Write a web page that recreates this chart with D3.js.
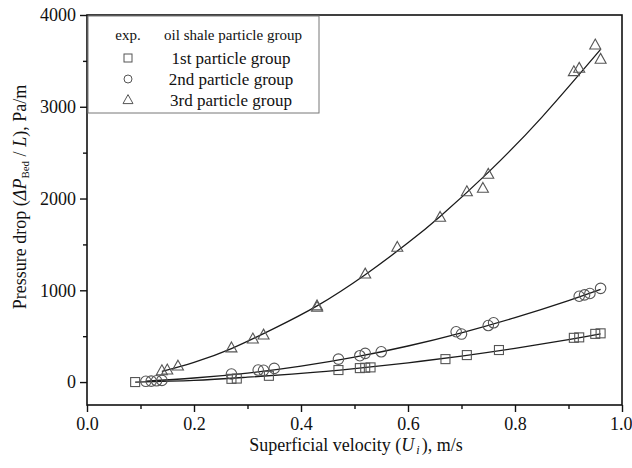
<!DOCTYPE html>
<html><head><meta charset="utf-8">
<script src="https://cdn.jsdelivr.net/npm/d3@7"></script>
<style>
body{margin:0;background:#fff;}
svg, svg text{font-family:"Liberation Serif","DejaVu Serif","Times New Roman",Tinos,serif !important;}
</style></head>
<body><svg id="c" width="632" height="468"></svg>
<script>
// ---- data ----
const g1V = [0.09, 0.27, 0.28, 0.34, 0.47, 0.51, 0.52, 0.53, 0.67, 0.71, 0.77, 0.91, 0.92, 0.95, 0.96];
const g1P = [0, 35, 38, 68, 131, 152, 156, 160, 250, 294, 349, 482, 487, 525, 531];
const g2V = [0.11, 0.12, 0.13, 0.14, 0.27, 0.32, 0.33, 0.35, 0.47, 0.51, 0.52, 0.55, 0.69, 0.70, 0.75, 0.76, 0.92, 0.93, 0.94, 0.96];
const g2P = [8, 10, 14, 18, 88, 131, 128, 149, 250, 287, 313, 330, 548, 523, 616, 646, 935, 950, 965, 1021];
const g3V = [0.14, 0.15, 0.17, 0.27, 0.31, 0.33, 0.43, 0.43, 0.52, 0.58, 0.66, 0.71, 0.74, 0.75, 0.91, 0.92, 0.95, 0.96];
const g3P = [123, 131, 174, 372, 469, 512, 815, 830, 1177, 1468, 1795, 2074, 2111, 2264, 3382, 3419, 3673, 3517];
// fitted curves
const fit1V = [0.09, 0.2, 0.3, 0.4, 0.5, 0.6, 0.7, 0.8, 0.9, 0.96];
const fit1P = [0, 18, 53, 94, 147, 210, 283, 367, 462, 525];
const fit2V = [0.11, 0.2, 0.3, 0.4, 0.5, 0.6, 0.7, 0.8, 0.9, 0.96];
const fit2P = [10, 44, 98, 174, 272, 393, 537, 702, 888, 1010];
const fit3V = [0.14, 0.2, 0.27, 0.35, 0.43, 0.52, 0.6, 0.66, 0.75, 0.85, 0.96];
const fit3P = [115, 215, 365, 585, 830, 1170, 1517, 1805, 2285, 2885, 3625];
const xMajor = [0, 0.2, 0.4, 0.6, 0.8, 1.0];
const xMinor = [0.1, 0.3, 0.5, 0.7, 0.9];
const yMajor = [0, 1000, 2000, 3000, 4000];
const yMinor = [500, 1500, 2500, 3500];
const legendTitle = ["exp.", "oil shale particle group"];
const legendLabels = ["1st particle group", "2nd particle group", "3rd particle group"];

// ---- layout ----
const FONT = '"Liberation Serif","DejaVu Serif","Times New Roman",Tinos,serif';
const svg = d3.select("#c");
const L = 87, R = 622, T = 15, B = 405;
const x = d3.scaleLinear().domain([0, 1]).range([L, R]);
const y = d3.scaleLinear().domain([-250, 4000]).range([B, T]);

// axes
const xAx = d3.axisBottom(x).tickValues(xMajor).tickFormat(d3.format(".1f")).tickSize(7).tickSizeOuter(0).tickPadding(5);
const xAxMin = d3.axisBottom(x).tickValues(xMinor).tickFormat("").tickSize(4).tickSizeOuter(0);
const yAx = d3.axisLeft(y).tickValues(yMajor).tickFormat(d3.format("d")).tickSize(7).tickSizeOuter(0).tickPadding(4);
const yAxMin = d3.axisLeft(y).tickValues(yMinor).tickFormat("").tickSize(4).tickSizeOuter(0);

function style(g){
  g.attr("font-family", FONT);
  g.select(".domain").remove();
  g.selectAll("line").attr("stroke","#111").attr("stroke-width",1.4);
  g.selectAll("text").attr("fill","#111").attr("font-size",18);
}
const gx = svg.append("g").attr("transform",`translate(0,${B})`).call(xAx).call(style);
// keep the last label inside the window
gx.selectAll(".tick text").filter(d => d === 1).attr("text-anchor","end").attr("dx",10);
svg.append("g").attr("transform",`translate(0,${B})`).call(xAxMin).call(style);
svg.append("g").attr("transform",`translate(${L},0)`).call(yAx).call(style);
svg.append("g").attr("transform",`translate(${L},0)`).call(yAxMin).call(style);

// frame
svg.append("rect").attr("x",L).attr("y",T).attr("width",R-L).attr("height",B-T)
  .attr("fill","none").attr("stroke","#111").attr("stroke-width",1.6);

// legend box
const lg = svg.append("g").attr("font-family", FONT);
lg.append("rect").attr("x",88).attr("y",16).attr("width",231).attr("height",97)
  .attr("fill","#fff").attr("stroke","#777").attr("stroke-width",1);
lg.append("text").attr("x",128).attr("y",40).attr("text-anchor","middle").attr("font-size",15).attr("fill","#111").text(legendTitle[0]);
lg.append("text").attr("x",233).attr("y",40).attr("text-anchor","middle").attr("font-size",15).attr("fill","#111").text(legendTitle[1]);

// markers
const mk = {
  sq: (g, cx, cy, s) => g.append("rect").attr("x",cx-s/2).attr("y",cy-s/2).attr("width",s).attr("height",s),
  ci: (g, cx, cy, s) => g.append("circle").attr("cx",cx).attr("cy",cy).attr("r",s/2),
  tr: (g, cx, cy, s) => { const h = s*0.9; return g.append("path").attr("d",`M${cx},${cy-h*0.6}L${cx+s/2},${cy+h*0.4}L${cx-s/2},${cy+h*0.4}Z`); }
};
const kinds = ["sq","ci","tr"];
legendLabels.forEach((t,i)=>{
  const cy = 58 + i*21;
  mk[kinds[i]](lg,128,cy,i===2?10:8).attr("fill","none").attr("stroke","#555").attr("stroke-width",1);
  lg.append("text").attr("x",231).attr("y",cy+6).attr("text-anchor","middle").attr("font-size",17).attr("fill","#111").text(t);
});

// curves
const line = d3.line().x(d=>x(d[0])).y(d=>y(d[1])).curve(d3.curveNatural);
[[fit1V,fit1P],[fit2V,fit2P],[fit3V,fit3P]].forEach(([vs,ps])=>{
  svg.append("path").datum(vs.map((v,i)=>[v,ps[i]])).attr("d",line)
    .attr("fill","none").attr("stroke","#1a1a1a").attr("stroke-width",1.3);
});

// points
const pg = svg.append("g").attr("fill","none").attr("stroke","#555").attr("stroke-width",1.1);
g1V.forEach((v,i)=>mk.sq(pg,x(v),y(g1P[i]),9));
g2V.forEach((v,i)=>mk.ci(pg,x(v),y(g2P[i]),10.5));
g3V.forEach((v,i)=>mk.tr(pg,x(v),y(g3P[i]),11));

// axis titles
const xt = svg.append("text").attr("font-family",FONT).attr("x",356).attr("y",451).attr("text-anchor","middle").attr("font-size",18).attr("fill","#111");
xt.append("tspan").text("Superficial velocity (");
xt.append("tspan").attr("font-style","italic").text("U");
xt.append("tspan").attr("font-style","italic").attr("font-size",12).attr("dx",2).attr("dy",3).text("i");
xt.append("tspan").attr("dx",2).attr("dy",-3).text("), m/s");

const yt = svg.append("text").attr("font-family",FONT).attr("transform","translate(26,197) rotate(-90)").attr("text-anchor","middle").attr("font-size",18).attr("fill","#111");
yt.append("tspan").text("Pressure drop (");
yt.append("tspan").attr("font-style","italic").text("ΔP");
yt.append("tspan").attr("font-size",11).attr("dy",3).text("Bed");
yt.append("tspan").attr("dy",-3).text(" / ");
yt.append("tspan").attr("font-style","italic").text("L");
yt.append("tspan").text("),  Pa/m");
</script></body></html>
